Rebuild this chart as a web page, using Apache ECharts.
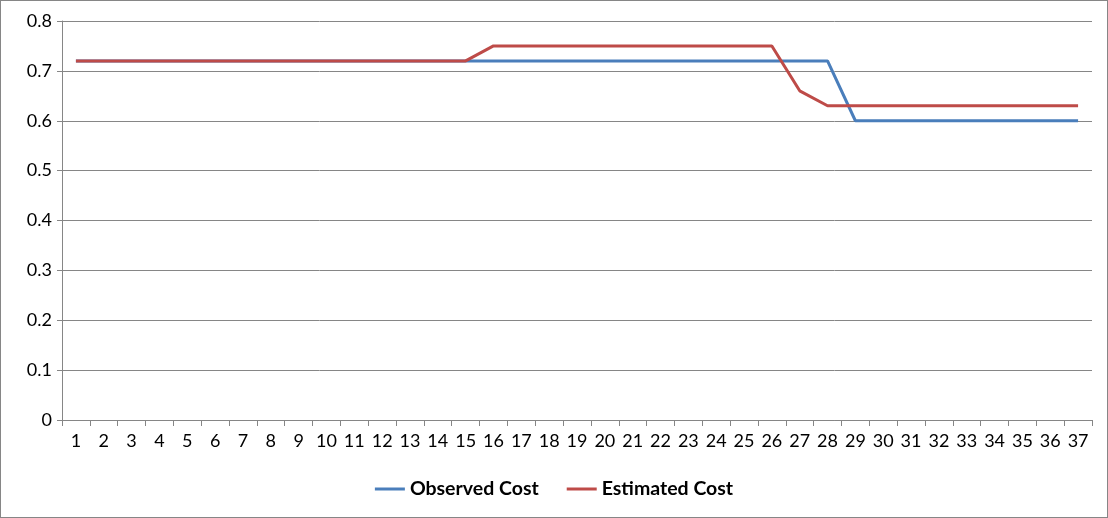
<!DOCTYPE html>
<html><head><meta charset="utf-8">
<script src="https://cdn.jsdelivr.net/npm/echarts@6/dist/echarts.min.js"></script>
<style>html,body{margin:0;padding:0;background:#fff}
#c{width:1106px;height:516px;border:1px solid #868686}</style>
</head><body><div id="c"></div>
<script>
var categories = [];
for (var i = 1; i <= 37; i++) categories.push(String(i));
var observed = [0.72,0.72,0.72,0.72,0.72,0.72,0.72,0.72,0.72,0.72,0.72,0.72,0.72,0.72,0.72,0.72,0.72,0.72,0.72,0.72,0.72,0.72,0.72,0.72,0.72,0.72,0.72,0.72,0.6,0.6,0.6,0.6,0.6,0.6,0.6,0.6,0.6];
var estimated = [0.72,0.72,0.72,0.72,0.72,0.72,0.72,0.72,0.72,0.72,0.72,0.72,0.72,0.72,0.72,0.75,0.75,0.75,0.75,0.75,0.75,0.75,0.75,0.75,0.75,0.75,0.66,0.63,0.63,0.63,0.63,0.63,0.63,0.63,0.63,0.63,0.63];

var chart = echarts.init(document.getElementById('c'));
chart.setOption({
    animation: false,
    textStyle: { fontFamily: 'Lato' },
    grid: { left: 61, right: 15, top: 20, bottom: 97 },
    legend: {
        bottom: 13, left: 'center', itemWidth: 30, itemHeight: 3, itemGap: 28,
        icon: 'rect',
        textStyle: { fontSize: 19.5, fontWeight: 'bold', color: '#000', fontFamily: 'Lato' },
        data: ['Observed Cost', 'Estimated Cost']
    },
    xAxis: {
        type: 'category', data: categories, boundaryGap: true,
        axisLine: { lineStyle: { color: '#868686' } },
        axisTick: { show: true, length: 6, lineStyle: { color: '#868686' } },
        axisLabel: { color: '#000', fontSize: 18, interval: 0, margin: 12 }
    },
    yAxis: {
        type: 'value', min: 0, max: 0.8, interval: 0.1,
        axisLine: { show: true, lineStyle: { color: '#868686' } },
        axisTick: { show: true, length: 5, lineStyle: { color: '#868686' } },
        axisLabel: { color: '#000', fontSize: 18, margin: 10,
            formatter: function (v) { return Math.round(v * 10) / 10; } },
        splitLine: { lineStyle: { color: '#868686' } }
    },
    series: [
        { name: 'Observed Cost', type: 'line', data: observed, symbol: 'none',
          itemStyle: { color: '#4a7ebb' }, lineStyle: { width: 3, color: '#4a7ebb' } },
        { name: 'Estimated Cost', type: 'line', data: estimated, symbol: 'none',
          itemStyle: { color: '#be4b48' }, lineStyle: { width: 3, color: '#be4b48' } }
    ]
});
</script></body></html>
